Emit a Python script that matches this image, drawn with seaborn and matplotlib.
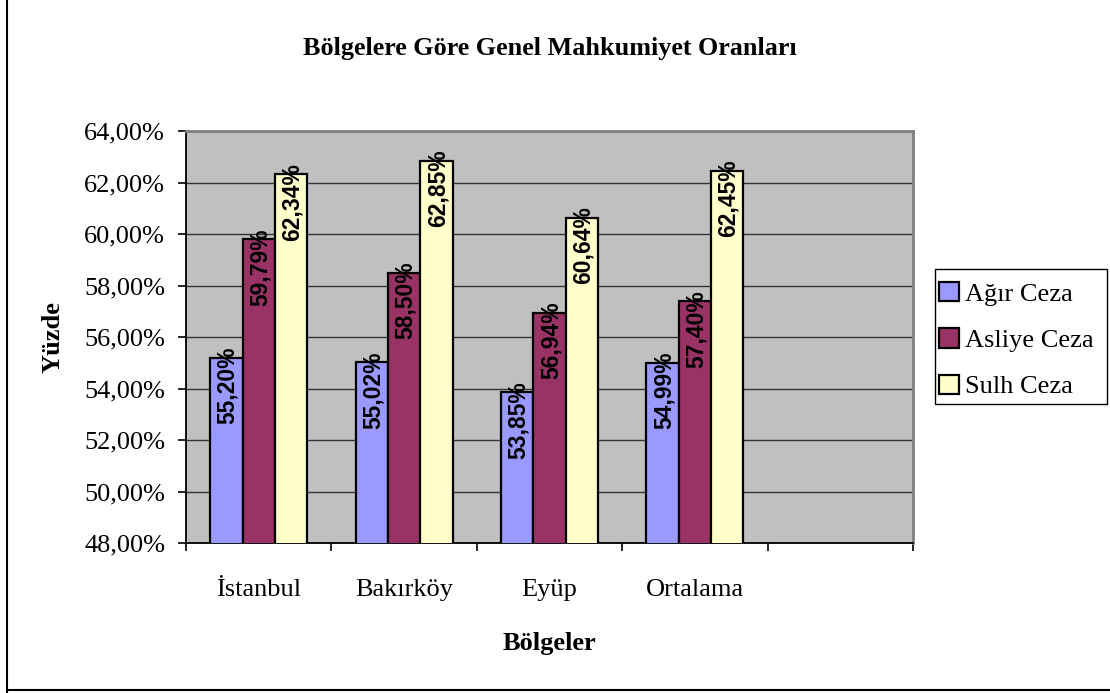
import matplotlib
matplotlib.use("Agg")
import matplotlib.pyplot as plt
import seaborn as sns
import pandas as pd
from matplotlib.lines import Line2D
from matplotlib.patches import Patch, Rectangle
from matplotlib.ticker import FixedLocator

categories = ["İstanbul", "Bakırköy", "Eyüp", "Ortalama", ""]
series = ["Ağır Ceza", "Asliye Ceza", "Sulh Ceza"]
agir = [55.20, 55.02, 53.85, 54.99]
asliye = [59.79, 58.50, 56.94, 57.40]
sulh = [62.34, 62.85, 60.64, 62.45]
colors = ["#9999FF", "#993366", "#FFFFCC"]
yticks = [48, 50, 52, 54, 56, 58, 60, 62, 64]

rows = []
for s, vals in zip(series, [agir, asliye, sulh]):
    for c, v in zip(categories[:4], vals):
        rows.append({"Bölge": c, "Seri": s, "Değer": v})
df = pd.DataFrame(rows)

sns.set_theme(style="white")
serif = ["Liberation Serif", "DejaVu Serif"]
plt.rcParams["font.family"] = serif
for k in ["text.color", "axes.labelcolor", "xtick.color", "ytick.color"]:
    plt.rcParams[k] = "black"

FS = 19
W, H = 1110, 693

fig = plt.figure(figsize=(11.1, 6.93), dpi=100)
ax = fig.add_axes([186/W, 1-543/H, (913-186)/W, (543-131)/H])
ax.set_facecolor("#C0C0C0")

sns.barplot(data=df, x="Bölge", y="Değer", hue="Seri", order=categories,
            hue_order=series, palette=colors, width=0.667, ax=ax,
            edgecolor="black", linewidth=1.6, legend=False, errorbar=None,
            saturation=1, zorder=3)

ax.set_ylim(48, 64)
ax.set_xlim(-0.5, 4.5)
ax.set_yticks(yticks)
ax.set_yticklabels([f"{t:.2f}%".replace(".", ",") for t in yticks], fontsize=FS)
ax.yaxis.grid(True, color="#333333", linewidth=1.0, zorder=0)
ax.set_axisbelow(True)

ax.set_xticks(range(len(categories)))
ax.set_xticklabels(categories, fontsize=FS)
ax.tick_params(axis="x", which="major", length=0, pad=26)
ax.xaxis.set_minor_locator(FixedLocator([i - 0.5 for i in range(len(categories) + 1)]))
ax.tick_params(axis="x", which="minor", length=6, width=1.2, color="black", bottom=True, direction="out")
ax.tick_params(axis="y", length=6, width=1.2, color="black", left=True, direction="out", pad=9)

for side in ["top", "right"]:
    ax.spines[side].set_color("#808080")
    ax.spines[side].set_linewidth(2)
for side in ["left", "bottom"]:
    ax.spines[side].set_color("black")
    ax.spines[side].set_linewidth(1.3)

ax.set_xlabel("Bölgeler", fontsize=FS, fontweight="bold", labelpad=22)
ax.set_ylabel("Yüzde", fontsize=FS, fontweight="bold", labelpad=14)
ax.set_title("Bölgelere Göre Genel Mahkumiyet Oranları", fontsize=18.8,
             fontweight="bold", pad=0, y=1.185)

for cont in ax.containers:
    for bar in cont:
        h = bar.get_height()
        if h != h or h == 0:
            continue
        ax.annotate(f"{h:.2f}%".replace(".", ","),
                    (bar.get_x() + bar.get_width() / 2, h),
                    xytext=(1, 8), textcoords="offset points",
                    rotation=90, rotation_mode="anchor", ha="right", va="center",
                    fontsize=16.5, fontweight="bold", color="black",
                    family=["Liberation Sans", "DejaVu Sans"], zorder=5)

# legend frame drawn separately, entries without frame
fig.add_artist(Rectangle((935/W, 1-404/H), (1107-935)/W, (404-269)/H,
                         transform=fig.transFigure, facecolor="white",
                         edgecolor="black", linewidth=1.0, zorder=1))
handles = [Patch(facecolor=c, edgecolor="black", linewidth=1.6) for c in colors]
leg = fig.legend(handles, series, loc="upper left",
                 bbox_to_anchor=(939/W, 1-282/H), fontsize=FS,
                 frameon=False, handlelength=0.75, handleheight=0.75,
                 handletextpad=0.25, labelspacing=0.85, borderpad=0,
                 borderaxespad=0)
leg.set_zorder(2)

fig.add_artist(Line2D([7/W, 7/W], [0, 1], transform=fig.transFigure, color="black", linewidth=1.5))
fig.add_artist(Line2D([7/W, 1], [1-690/H, 1-690/H], transform=fig.transFigure, color="black", linewidth=1.5))

fig.savefig("out.png", dpi=100, facecolor="white")
